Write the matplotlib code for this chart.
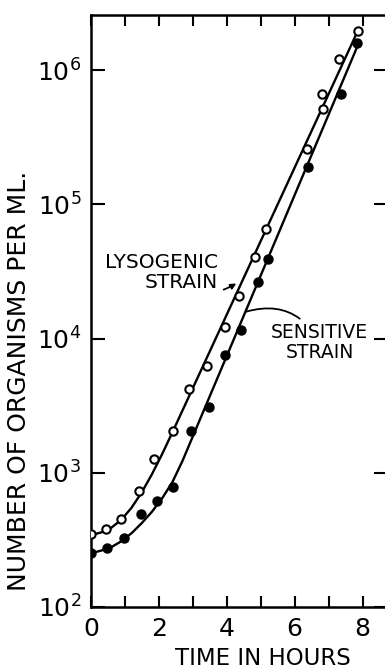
import matplotlib
matplotlib.use("Agg")
import matplotlib.pyplot as plt
import numpy as np

plt.rcParams["font.family"] = "DejaVu Sans"

# measured points (time in hours, organisms per ml)
lyso_t = [0.0, 0.45, 0.88, 1.42, 1.86, 2.42, 2.88, 3.43, 3.95, 4.37, 4.83,
          5.17, 6.35, 6.80, 6.82, 7.30, 7.85]
lyso_n = [348, 380, 450, 728, 1265, 2030, 4220, 6220, 12100, 20700, 40200,
          65600, 257000, 661000, 511000, 1200000, 1950000]

sens_t = [0.0, 0.48, 0.99, 1.47, 1.96, 2.43, 2.96, 3.48, 3.95, 4.42, 4.91,
          5.22, 6.40, 7.35, 7.84]
sens_n = [251, 274, 328, 492, 612, 787, 2030, 3070, 7520, 11600, 26200,
          39400, 190000, 661000, 1600000]

# hand-drawn curves
lyso_curve_t = [0, 0.3, 0.6, 0.9, 1.2, 1.5, 1.8, 2.1, 2.4, 7.8]
lyso_curve_n = [343, 359, 389, 447, 550, 716, 977, 1380, 2000, 1820000]

sens_curve_t = [0, 0.3, 0.6, 0.9, 1.2, 1.5, 1.8, 2.1, 2.4, 2.7, 7.85]
sens_curve_n = [251, 263, 279, 309, 355, 422, 513, 646, 851, 1230, 1510000]

x_ticks = [0, 1, 2, 3, 4, 5, 6, 7, 8]
x_labels = ["0", "", "2", "", "4", "", "6", "", "8"]
y_ticks = [1e2, 1e3, 1e4, 1e5, 1e6]
y_labels = [r"$10^2$", r"$10^3$", r"$10^4$", r"$10^5$", r"$10^6$"]

fig = plt.figure(figsize=(3.85, 6.71), dpi=100)
ax = fig.add_axes([0.236, 0.0954, 0.772, 0.8822])

ax.plot(lyso_curve_t, lyso_curve_n, color="black", lw=1.7, zorder=2)
ax.plot(sens_curve_t, sens_curve_n, color="black", lw=1.7, zorder=2)
ax.plot(lyso_t, lyso_n, "o", ms=6, mfc="white", mec="black", mew=1.5, zorder=3)
ax.plot(sens_t, sens_n, "o", ms=6.5, mfc="black", mec="black", zorder=3)

ax.set_yscale("log")
ax.set_xlim(0, 8.75)
ax.set_ylim(1e2, 10 ** 6.41)
ax.set_xticks(x_ticks)
ax.set_xticklabels(x_labels)
ax.set_yticks(y_ticks)
ax.set_yticklabels(y_labels)
ax.minorticks_off()

ax.tick_params(direction="in", length=8, width=1.5, top=True, right=True,
               labelsize=18, pad=7)
ax.tick_params(axis="y", length=10)
for s in ax.spines.values():
    s.set_linewidth(1.8)

ax.set_xlabel("TIME IN HOURS", fontsize=16.5)
ax.xaxis.set_label_coords(0.58, -0.068)
ax.set_ylabel("NUMBER OF ORGANISMS PER ML.", fontsize=18)
ax.yaxis.set_label_coords(-0.2, 0.382)

ax.annotate("LYSOGENIC\nSTRAIN", xy=(4.28, 10 ** 4.41), xytext=(3.75, 10 ** 4.49),
            ha="right", va="center", multialignment="right", fontsize=14.5,
            linespacing=1.05,
            arrowprops=dict(arrowstyle="-|>", color="black", lw=1.3,
                            mutation_scale=8, shrinkA=2, shrinkB=0,
                            connectionstyle="arc3,rad=0.4"))
ax.annotate("SENSITIVE\nSTRAIN", xy=(4.57, 10 ** 4.2), xytext=(5.3, 10 ** 3.97),
            ha="left", va="center", multialignment="center", fontsize=13.5,
            linespacing=1.05,
            arrowprops=dict(arrowstyle="-", color="black", lw=1.3,
                            shrinkA=2, shrinkB=0,
                            connectionstyle="arc3,rad=0.4"))

fig.savefig("out.png", dpi=100)
